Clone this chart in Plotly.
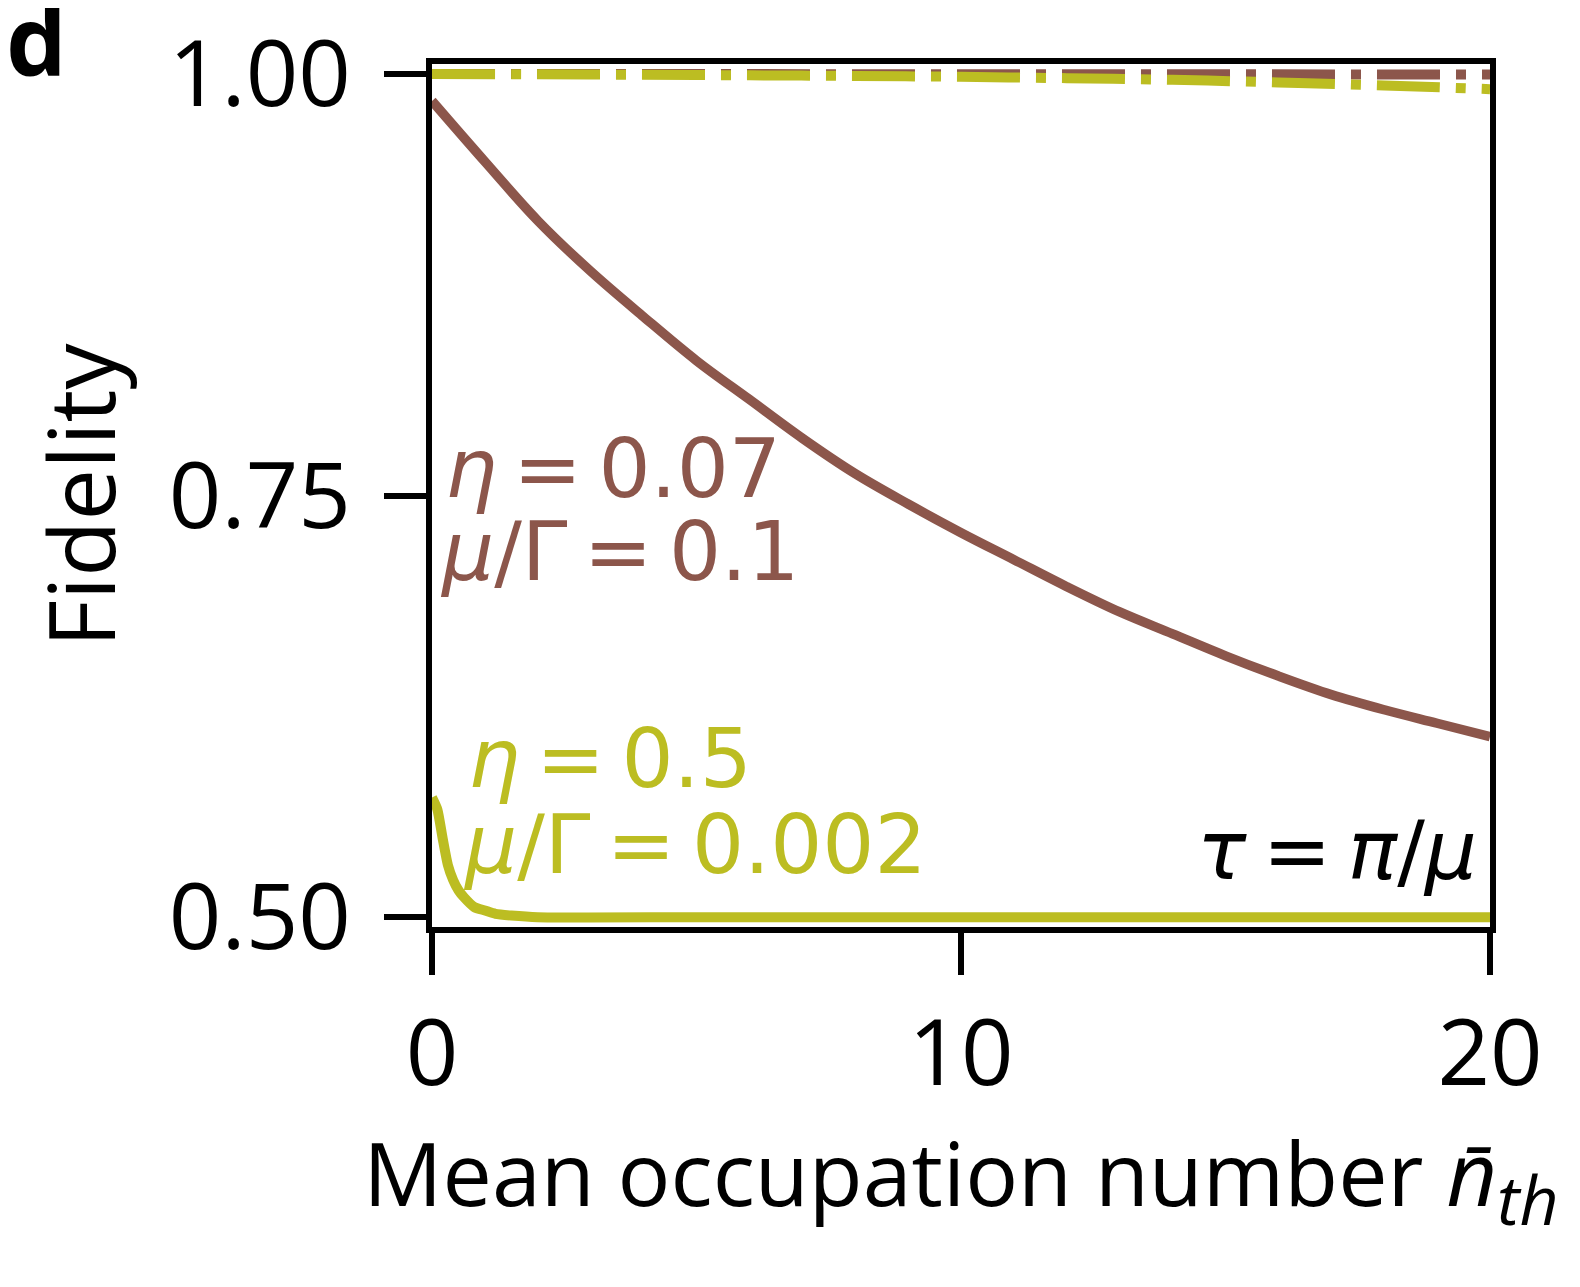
import plotly.graph_objects as go

# brown curve (eta = 0.07, mu/Gamma = 0.1), solid = tau = pi/mu
n_brown = [0, 1, 2, 3, 4, 5, 6, 7, 8, 9, 10, 11, 12, 13, 14, 15, 16, 17, 18, 19, 20]
f_brown = [0.984, 0.948, 0.913, 0.883, 0.856, 0.830, 0.807, 0.784, 0.763, 0.745, 0.728,
           0.712, 0.696, 0.681, 0.668, 0.655, 0.643, 0.632, 0.623, 0.615, 0.607]

# brown dash-dot
n_brown_dd = [0, 5, 10, 15, 20]
f_brown_dd = [1.0, 1.0, 0.9999, 0.9998, 0.9997]

# olive curve (eta = 0.5, mu/Gamma = 0.002)
n_olive = [0, 0.1, 0.2, 0.3, 0.4, 0.5, 0.6, 0.8, 1.0, 1.2, 1.5, 2, 5, 10, 15, 20]
f_olive = [0.571, 0.564, 0.547, 0.531, 0.522, 0.516, 0.512, 0.506, 0.504, 0.502, 0.501,
           0.500, 0.500, 0.500, 0.500, 0.500]

# olive dash-dot
n_olive_dd = [0, 2, 4, 6, 8, 10, 12, 14, 16, 18, 20]
f_olive_dd = [1.0, 0.9998, 0.9995, 0.9992, 0.9988, 0.9983, 0.9975, 0.9965, 0.995, 0.9932, 0.991]

x_ticks = [0, 10, 20]
y_ticks = [0.5, 0.75, 1.0]
y_ticktext = ["0.50", "0.75", "1.00"]

BROWN = "#8c564b"
OLIVE = "#bcbd22"
DASHDOT = "63px,16px,10px,16px"
TICKFONT = "Open Sans"
MATHFONT = "DejaVu Sans"
TS = "\u2009"  # thin space, closer to mathtext spacing

fig = go.Figure()
fig.add_trace(go.Scatter(x=n_brown, y=f_brown, mode="lines",
                         line=dict(color=BROWN, width=9.5, shape="spline")))
fig.add_trace(go.Scatter(x=n_brown_dd, y=f_brown_dd, mode="lines",
                         line=dict(color=BROWN, width=10, dash=DASHDOT)))
fig.add_trace(go.Scatter(x=n_olive, y=f_olive, mode="lines",
                         line=dict(color=OLIVE, width=10, shape="spline", smoothing=0.6)))
fig.add_trace(go.Scatter(x=n_olive_dd, y=f_olive_dd, mode="lines",
                         line=dict(color=OLIVE, width=10, dash=DASHDOT, shape="spline")))

labels = [
    (f"<i>η</i>{TS}={TS}0.07", 0.2, 0.766, BROWN, "left"),
    (f"<i>μ</i>/Γ{TS}={TS}0.1", 0.12, 0.717, BROWN, "left"),
    (f"<i>η</i>{TS}={TS}0.5", 0.65, 0.594, OLIVE, "left"),
    (f"<i>μ</i>/Γ{TS}={TS}0.002", 0.55, 0.543, OLIVE, "left"),
    (f"<i>τ</i>{TS}={TS}<i>π</i>/<i>μ</i>", 19.8, 0.5395, "black", "right"),
]
for text, x, y, col, anchor in labels:
    fig.add_annotation(x=x, y=y, text=text, showarrow=False, xanchor=anchor,
                       yanchor="middle", font=dict(family=MATHFONT, size=82, color=col))

fig.add_annotation(x=-0.405, y=1.03, xref="paper", yref="paper", text="<b>d</b>",
                   showarrow=False, xanchor="left", yanchor="middle",
                   font=dict(family=TICKFONT, size=96, color="black", weight=900))

axis_common = dict(
    showline=True, linewidth=5.5, linecolor="black", mirror=True,
    ticks="outside", ticklen=42, tickwidth=5.5, tickcolor="black",
    showgrid=False, zeroline=False, automargin=False,
    tickfont=dict(family=TICKFONT, size=92, color="black"),
)

x_title = ("Mean occupation number <i>n̄</i>"
           "<sub><span style='font-size:68px'><i>th</i></span></sub>")

# page body adds an 8px margin, so the figure is 16px smaller than the window
fig.update_layout(
    width=1564, height=1271, autosize=False,
    margin=dict(l=424, r=82, t=56, b=352),
    plot_bgcolor="white", paper_bgcolor="white",
    showlegend=False,
    xaxis=dict(range=[0, 20], tickvals=x_ticks, ticklabelstandoff=0,
               title=dict(text=x_title,
                          font=dict(family=TICKFONT, size=88, color="black"), standoff=22),
               **axis_common),
    yaxis=dict(range=[0.4942, 1.0059], tickvals=y_ticks, ticktext=y_ticktext,
               ticklabelstandoff=15,
               title=dict(text="Fidelity",
                          font=dict(family=TICKFONT, size=92, color="black"), standoff=25),
               **axis_common),
)

fig.write_html("out.html")
